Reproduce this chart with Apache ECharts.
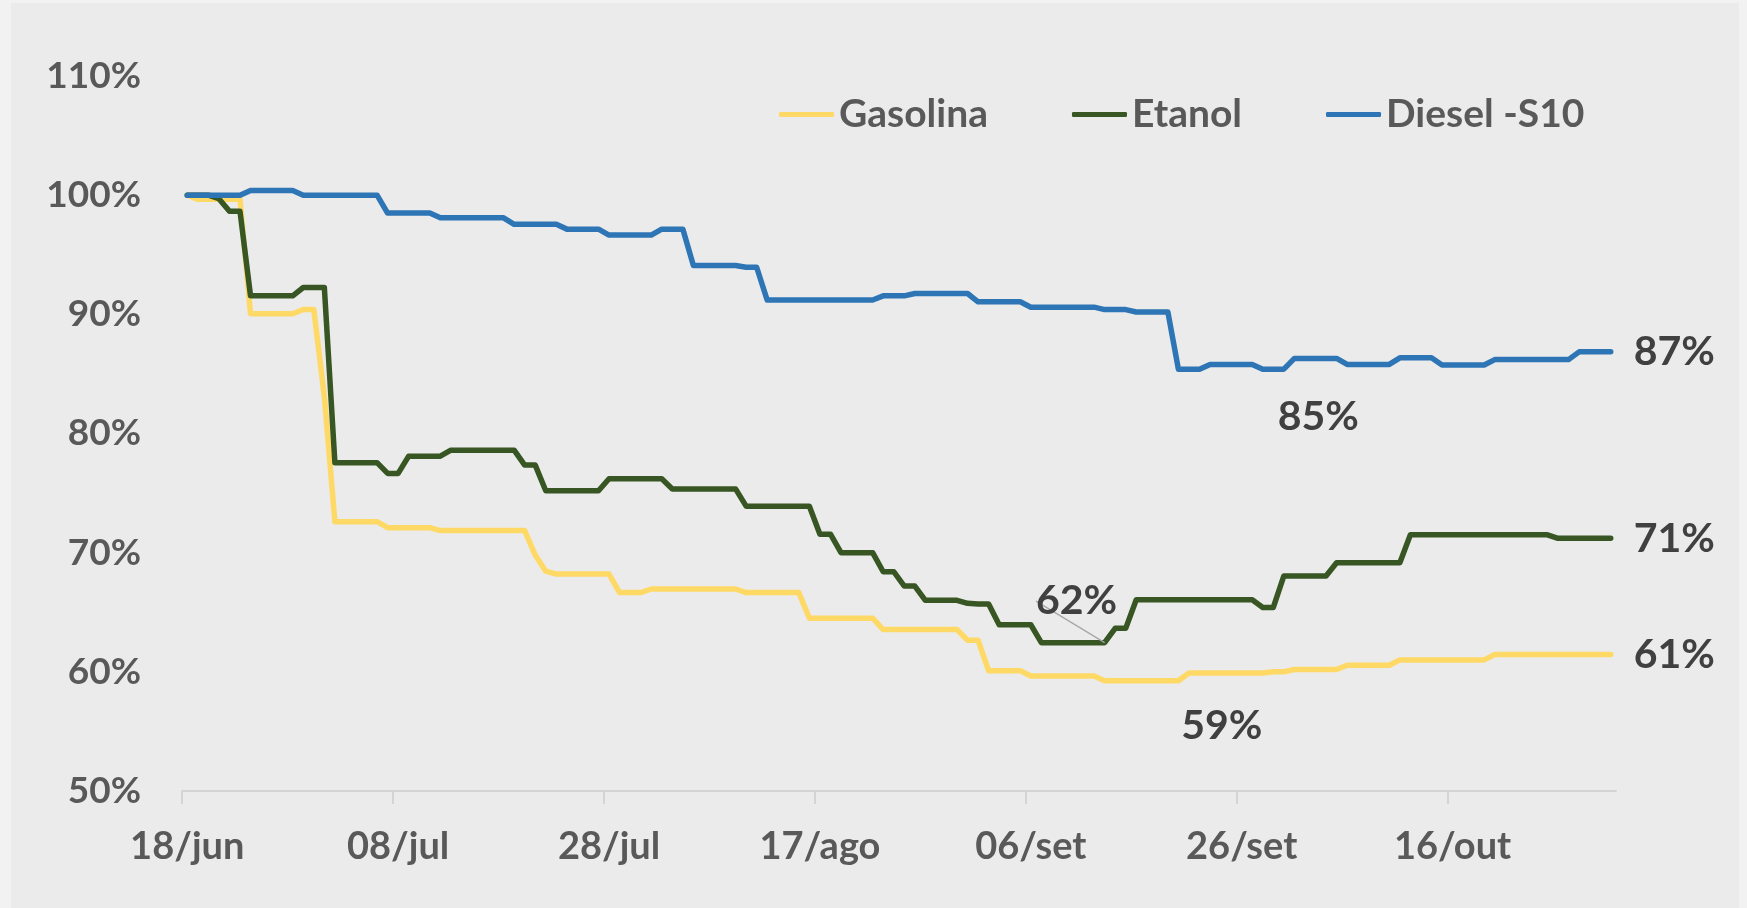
<!DOCTYPE html>
<html>
<head>
<meta charset="utf-8">
<script src="https://cdn.jsdelivr.net/npm/echarts@6/dist/echarts.min.js"></script>
<style>
  html, body { margin: 0; padding: 0; background: #F2F2F2; }
  #chart { position: absolute; left: 11px; top: 3px; width: 1728px; height: 905px; background: #EBEBEB; }
</style>
</head>
<body>
<div id="chart"></div>
<script>
// dias de 18/jun a 31/out
const startDay = 18
const months = [['jun', 30], ['jul', 31], ['ago', 31], ['set', 30], ['out', 31], ['nov', 30]]
const dayCount = 136

const seriesNames = ['Gasolina', 'Etanol', 'Diesel -S10']
const seriesColors = ['#FFD966', '#375623', '#2E75B6']

// preço relativo (%) ao dia 18/jun
const gasolina = [
  100, 99.65, 99.65, 99.65, 99.65, 99.65, 90.05, 90.05, 90.05, 90.05,
  90.05, 90.4, 90.4, 83.1, 72.6, 72.6, 72.6, 72.6, 72.6, 72.1,
  72.1, 72.1, 72.1, 72.1, 71.85, 71.85, 71.85, 71.85, 71.85, 71.85,
  71.85, 71.85, 71.85, 69.8, 68.45, 68.2, 68.2, 68.2, 68.2, 68.2,
  68.2, 66.65, 66.65, 66.65, 66.95, 66.95, 66.95, 66.95, 66.95, 66.95,
  66.95, 66.95, 66.95, 66.65, 66.65, 66.65, 66.65, 66.65, 66.65, 64.5,
  64.5, 64.5, 64.5, 64.5, 64.5, 64.5, 63.55, 63.55, 63.55, 63.55,
  63.55, 63.55, 63.55, 63.55, 62.65, 62.65, 60.1, 60.1, 60.1, 60.1,
  59.65, 59.65, 59.65, 59.65, 59.65, 59.65, 59.65, 59.25, 59.25, 59.25,
  59.25, 59.25, 59.25, 59.25, 59.25, 59.9, 59.9, 59.9, 59.9, 59.9,
  59.9, 59.9, 59.9, 60.0, 60.0, 60.2, 60.2, 60.2, 60.2, 60.2,
  60.55, 60.55, 60.55, 60.55, 60.55, 61.0, 61.0, 61.0, 61.0, 61.0,
  61.0, 61.0, 61.0, 61.0, 61.45, 61.45, 61.45, 61.45, 61.45, 61.45,
  61.45, 61.45, 61.45, 61.45, 61.45, 61.45
]
const etanol = [
  100, 100, 100, 99.7, 98.65, 98.65, 91.55, 91.55, 91.55, 91.55,
  91.55, 92.25, 92.25, 92.25, 77.55, 77.55, 77.55, 77.55, 77.55, 76.65,
  76.65, 78.1, 78.1, 78.1, 78.1, 78.6, 78.6, 78.6, 78.6, 78.6,
  78.6, 78.6, 77.35, 77.35, 75.2, 75.2, 75.2, 75.2, 75.2, 75.2,
  76.2, 76.2, 76.2, 76.2, 76.2, 76.2, 75.35, 75.35, 75.35, 75.35,
  75.35, 75.35, 75.35, 73.9, 73.9, 73.9, 73.9, 73.9, 73.9, 73.9,
  71.55, 71.55, 70.0, 70.0, 70.0, 70.0, 68.4, 68.4, 67.2, 67.2,
  66.0, 66.0, 66.0, 66.0, 65.75, 65.7, 65.7, 63.95, 63.95, 63.95,
  63.95, 62.45, 62.45, 62.45, 62.45, 62.45, 62.45, 62.45, 63.65, 63.65,
  66.05, 66.05, 66.05, 66.05, 66.05, 66.05, 66.05, 66.05, 66.05, 66.05,
  66.05, 66.05, 65.4, 65.4, 68.05, 68.05, 68.05, 68.05, 68.05, 69.15,
  69.15, 69.15, 69.15, 69.15, 69.15, 69.15, 71.5, 71.5, 71.5, 71.5,
  71.5, 71.5, 71.5, 71.5, 71.5, 71.5, 71.5, 71.5, 71.5, 71.5,
  71.2, 71.2, 71.2, 71.2, 71.2, 71.2
]
const diesel = [
  100, 100, 100, 100, 100, 100, 100.4, 100.4, 100.4, 100.4,
  100.4, 100, 100, 100, 100, 100, 100, 100, 100, 98.5,
  98.5, 98.5, 98.5, 98.5, 98.1, 98.1, 98.1, 98.1, 98.1, 98.1,
  98.1, 97.55, 97.55, 97.55, 97.55, 97.55, 97.15, 97.15, 97.15, 97.15,
  96.65, 96.65, 96.65, 96.65, 96.65, 97.15, 97.15, 97.15, 94.1, 94.1,
  94.1, 94.1, 94.1, 93.95, 93.95, 91.2, 91.2, 91.2, 91.2, 91.2,
  91.2, 91.2, 91.2, 91.2, 91.2, 91.2, 91.55, 91.55, 91.55, 91.75,
  91.75, 91.75, 91.75, 91.75, 91.75, 91.05, 91.05, 91.05, 91.05, 91.05,
  90.6, 90.6, 90.6, 90.6, 90.6, 90.6, 90.6, 90.4, 90.4, 90.4,
  90.2, 90.2, 90.2, 90.2, 85.4, 85.4, 85.4, 85.8, 85.8, 85.8,
  85.8, 85.8, 85.4, 85.4, 85.4, 86.3, 86.3, 86.3, 86.3, 86.3,
  85.8, 85.8, 85.8, 85.8, 85.8, 86.35, 86.35, 86.35, 86.35, 85.75,
  85.75, 85.75, 85.75, 85.75, 86.2, 86.2, 86.2, 86.2, 86.2, 86.2,
  86.2, 86.2, 86.85, 86.85, 86.85, 86.85
]

// pontos com rótulo (índice do dia)
const gasolinaMinIdx = 91
const etanolMinIdx = 87
const dieselMinIdx = 103
const lastIdx = dayCount - 1

// datas dd/mmm; dayEdges tem um dia a mais (fim do eixo)
let dayEdges = []
let m = 0, d = startDay
for (let i = 0; i <= dayCount; i++) {
  dayEdges.push(String(d).padStart(2, '0') + '/' + months[m][0])
  d++
  if (d > months[m][1]) { d = 1; m++ }
}
const dates = dayEdges.slice(0, dayCount)

const font = 'Lato'
const pct = p => Math.round(p.value) + '%'
const bigLabel = { show: true, formatter: pct, fontFamily: font, fontWeight: 'bold', fontSize: 41, lineHeight: 41, color: '#404040' }

function buildData(values, extra) {
  return values.map((v, i) => extra[i] ? Object.assign({ value: v }, extra[i]) : v)
}

const endLabel = { label: Object.assign({}, bigLabel, { position: 'right', distance: 23 }) }

const dataGasolina = buildData(gasolina, {
  [gasolinaMinIdx]: { label: Object.assign({}, bigLabel, { position: 'bottom', offset: [75, 20] }) },
  [lastIdx]: endLabel
})
const dataEtanol = buildData(etanol, {
  [etanolMinIdx]: {
    label: Object.assign({}, bigLabel, { position: 'top' }),
    labelLine: { show: true, lineStyle: { color: '#A6A6A6', width: 1.2 } }
  },
  [lastIdx]: endLabel
})
const dataDiesel = buildData(diesel, {
  [dieselMinIdx]: { label: Object.assign({}, bigLabel, { position: 'bottom', offset: [45, 22] }) },
  [lastIdx]: endLabel
})

function lineSeries(idx, data) {
  return {
    name: seriesNames[idx],
    type: 'line',
    data: data,
    color: seriesColors[idx],
    symbol: 'circle',
    symbolSize: 0,
    showSymbol: true,
    showAllSymbol: true,
    lineStyle: { width: 5.5, color: seriesColors[idx], cap: 'round', join: 'round' },
    emphasis: { disabled: true }
  }
}

var myChart = echarts.init(document.getElementById('chart'))
const etanolSeries = lineSeries(1, dataEtanol)
etanolSeries.labelLayout = params => params.dataIndex === etanolMinIdx ? { dx: -28, dy: -16 } : {}

const axisGray = '#D4D4D4'

myChart.setOption({
  animation: false,
  textStyle: { fontFamily: font },
  legend: {
    data: seriesNames,
    left: 768,
    top: 92,
    padding: 0,
    icon: 'roundRect',
    itemWidth: 55,
    itemHeight: 5,
    itemGap: 84,
    textStyle: { fontFamily: font, fontWeight: 'bold', fontSize: 39, color: '#595959' }
  },
  grid: {
    left: 171,
    top: 73,
    width: 1434,
    height: 715
  },
  xAxis: [
    {
      // eixo dos dados (um intervalo por dia)
      type: 'category',
      position: 'bottom',
      data: dates,
      boundaryGap: true,
      axisLine: { lineStyle: { color: axisGray, width: 2 } },
      axisTick: { show: false },
      axisLabel: { interval: 19, margin: 37, fontFamily: font, fontWeight: 'bold', fontSize: 38, color: '#595959' },
      splitLine: { show: false }
    },
    {
      // só as marcas, no início de cada dia
      type: 'category',
      position: 'bottom',
      data: dayEdges,
      boundaryGap: false,
      axisLine: { show: false },
      axisLabel: { show: false },
      axisTick: { show: true, interval: 19, length: 13, lineStyle: { color: axisGray, width: 2 } },
      splitLine: { show: false }
    }
  ],
  yAxis: {
    type: 'value',
    min: 50,
    max: 110,
    interval: 10,
    axisLine: { show: false },
    axisTick: { show: false },
    splitLine: { show: false },
    axisLabel: { formatter: '{value}%', margin: 41, fontFamily: font, fontWeight: 'bold', fontSize: 37, color: '#595959' }
  },
  series: [
    lineSeries(0, dataGasolina),
    etanolSeries,
    lineSeries(2, dataDiesel)
  ]
})
</script>
</body>
</html>
